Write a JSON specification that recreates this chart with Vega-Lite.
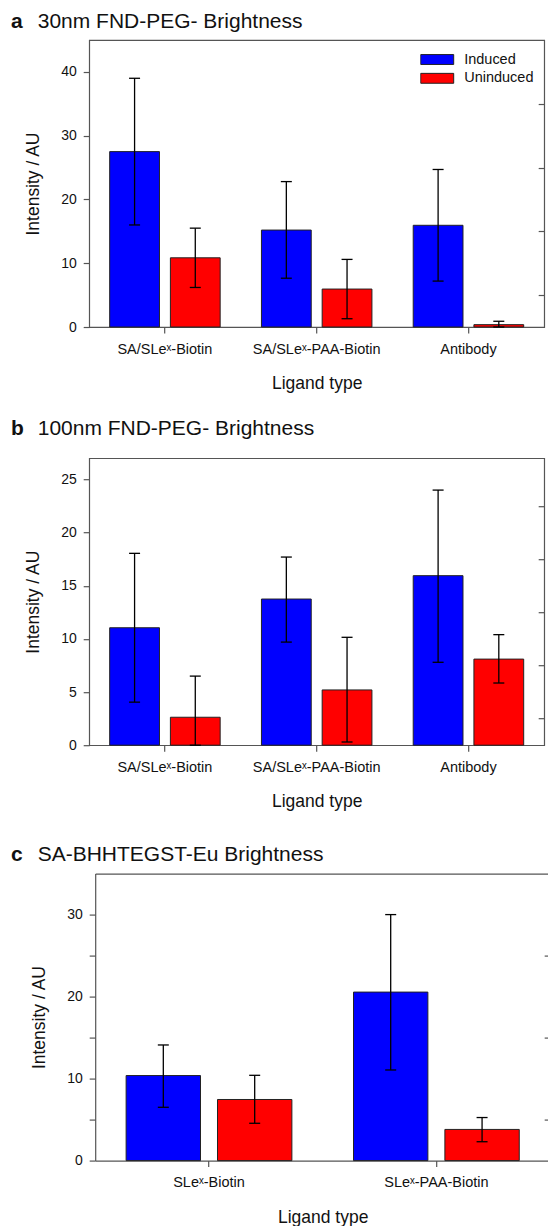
{
  "$schema": "https://vega.github.io/schema/vega-lite/v6.json",
  "background": "white",
  "padding": {"left": 10.2, "top": 10, "right": 0, "bottom": 0},
  "config": {
    "font": "Liberation Sans",
    "view": {"stroke": "#555", "strokeWidth": 1.2},
    "axis": {"domain": false, "grid": false, "tickColor": "#555", "tickWidth": 1.2, "tickSize": 6, "labelColor": "#111", "titleColor": "#111", "labelFontSize": 14, "titleFontSize": 17.5, "titleFontWeight": "normal", "domainColor": "#555", "domainWidth": 1.2},
    "axisX": {"labelAngle": 0, "labelPadding": 9, "titlePadding": 19, "labelFontSize": 14.5},
    "axisY": {"labelPadding": 7, "titlePadding": 18},
    "title": {"anchor": "start", "fontSize": 21, "fontWeight": "bold", "color": "#111", "subtitleFontSize": 21, "subtitleColor": "#111", "subtitleFontWeight": "normal", "subtitlePadding": -21},
    "tick": {"opacity": 1},
    "legend": {"labelColor": "#111"}
  },
  "datasets": {
    "a": [
      {"ligand": "SA/SLe\u02e3-Biotin", "condition": "Induced", "value": 27.5, "low": 16.0, "high": 39.0},
      {"ligand": "SA/SLe\u02e3-Biotin", "condition": "Uninduced", "value": 10.85, "low": 6.2, "high": 15.5},
      {"ligand": "SA/SLe\u02e3-PAA-Biotin", "condition": "Induced", "value": 15.2, "low": 7.65, "high": 22.8},
      {"ligand": "SA/SLe\u02e3-PAA-Biotin", "condition": "Uninduced", "value": 5.95, "low": 1.3, "high": 10.6},
      {"ligand": "Antibody", "condition": "Induced", "value": 15.95, "low": 7.2, "high": 24.7},
      {"ligand": "Antibody", "condition": "Uninduced", "value": 0.37, "low": 0, "high": 0.9}
    ],
    "b": [
      {"ligand": "SA/SLe\u02e3-Biotin", "condition": "Induced", "value": 11.05, "low": 4.05, "high": 18.05},
      {"ligand": "SA/SLe\u02e3-Biotin", "condition": "Uninduced", "value": 2.63, "low": 0, "high": 6.5},
      {"ligand": "SA/SLe\u02e3-PAA-Biotin", "condition": "Induced", "value": 13.75, "low": 9.7, "high": 17.7},
      {"ligand": "SA/SLe\u02e3-PAA-Biotin", "condition": "Uninduced", "value": 5.2, "low": 0.3, "high": 10.15},
      {"ligand": "Antibody", "condition": "Induced", "value": 15.95, "low": 7.8, "high": 24.0},
      {"ligand": "Antibody", "condition": "Uninduced", "value": 8.1, "low": 5.85, "high": 10.4}
    ],
    "c": [
      {"ligand": "SLe\u02e3-Biotin", "condition": "Induced", "value": 10.37, "low": 6.5, "high": 14.1},
      {"ligand": "SLe\u02e3-Biotin", "condition": "Uninduced", "value": 7.45, "low": 4.55, "high": 10.4},
      {"ligand": "SLe\u02e3-PAA-Biotin", "condition": "Induced", "value": 20.55, "low": 11.05, "high": 30.0},
      {"ligand": "SLe\u02e3-PAA-Biotin", "condition": "Uninduced", "value": 3.8, "low": 2.3, "high": 5.25}
    ]
  },
  "columns": 1,
  "align": "none",
  "spacing": 32.6,
  "resolve": {"scale": {"color": "independent", "xOffset": "independent", "x": "independent"}, "legend": {"color": "independent"}},
  "concat": [
    {
      "vconcat": [
        {
          "width": 455, "height": 287,
          "data": {"name": "a"},
          "title": {"text": "a", "subtitle": "\u200b\u2002\u2002\u00a030nm FND-PEG- Brightness", "dx": -13.7, "offset": 8},
          "encoding": {
            "x": {"field": "ligand", "type": "nominal", "sort": null, "title": "Ligand type", "scale": {"paddingInner": 0.272, "paddingOuter": 0.135}},
            "xOffset": {"field": "condition", "type": "nominal", "sort": ["Induced", "Uninduced"], "scale": {"paddingInner": 0.18, "paddingOuter": 0}}
          },
          "layer": [
            {
              "layer": [
                {
                  "mark": {"type": "bar", "stroke": "#222", "strokeWidth": 1},
                  "encoding": {
                    "y": {"field": "value", "type": "quantitative", "title": "Intensity / AU", "scale": {"domain": [0, 45], "nice": false}, "axis": {"values": [0, 5, 10, 15, 20, 25, 30, 35, 40], "labelExpr": "datum.value % 10 === 0 ? datum.label : ''"}},
                    "color": {"field": "condition", "type": "nominal", "scale": {"domain": ["Induced", "Uninduced"], "range": ["#0000ff", "#ff0000"]},
                      "legend": {"orient": "top-right", "offset": 10.5, "title": null, "symbolType": "M-1,-0.3H1V0.3H-1Z", "symbolSize": 1089, "symbolStrokeColor": "#222", "symbolStrokeWidth": 1, "symbolOpacity": 1, "labelFontSize": 14.5, "labelOffset": 10, "clipHeight": 17, "rowPadding": 1.8, "padding": 0}}
                  }
                },
                {"mark": {"type": "rule", "color": "#000", "strokeWidth": 1.3}, "encoding": {"y": {"field": "low", "type": "quantitative", "title": "Intensity / AU"}, "y2": {"field": "high"}}},
                {"mark": {"type": "tick", "color": "#000", "thickness": 1.3, "size": 11, "opacity": 1}, "encoding": {"y": {"field": "high", "type": "quantitative", "title": "Intensity / AU"}}},
                {"mark": {"type": "tick", "color": "#000", "thickness": 1.3, "size": 11, "opacity": 1}, "encoding": {"y": {"field": "low", "type": "quantitative", "title": "Intensity / AU"}}}
              ]
            },
            {"mark": {"type": "point", "opacity": 0}, "encoding": {"y": {"field": "value", "type": "quantitative", "scale": {"domain": [0, 45], "nice": false}, "axis": {"orient": "right", "title": null, "labels": false, "values": [5, 15, 25, 35], "offset": -6}}}}
          ],
          "resolve": {"scale": {"y": "independent"}}
        },
        {
          "width": 455, "height": 287,
          "data": {"name": "b"},
          "title": {"text": "b", "subtitle": "\u200b\u2002\u2002\u00a0100nm FND-PEG- Brightness", "dx": -13.7, "offset": 19},
          "encoding": {
            "x": {"field": "ligand", "type": "nominal", "sort": null, "title": "Ligand type", "scale": {"paddingInner": 0.272, "paddingOuter": 0.135}},
            "xOffset": {"field": "condition", "type": "nominal", "sort": ["Induced", "Uninduced"], "scale": {"paddingInner": 0.18, "paddingOuter": 0}}
          },
          "layer": [
            {
              "layer": [
                {
                  "mark": {"type": "bar", "stroke": "#222", "strokeWidth": 1},
                  "encoding": {
                    "y": {"field": "value", "type": "quantitative", "title": "Intensity / AU", "scale": {"domain": [0, 27], "nice": false}, "axis": {"values": [0, 2.5, 5, 7.5, 10, 12.5, 15, 17.5, 20, 22.5, 25], "labelExpr": "datum.value % 5 === 0 ? datum.label : ''"}},
                    "color": {"field": "condition", "type": "nominal", "scale": {"domain": ["Induced", "Uninduced"], "range": ["#0000ff", "#ff0000"]}, "legend": null}
                  }
                },
                {"mark": {"type": "rule", "color": "#000", "strokeWidth": 1.3}, "encoding": {"y": {"field": "low", "type": "quantitative", "title": "Intensity / AU"}, "y2": {"field": "high"}}},
                {"mark": {"type": "tick", "color": "#000", "thickness": 1.3, "size": 11, "opacity": 1}, "encoding": {"y": {"field": "high", "type": "quantitative", "title": "Intensity / AU"}}},
                {"mark": {"type": "tick", "color": "#000", "thickness": 1.3, "size": 11, "opacity": 1}, "encoding": {"y": {"field": "low", "type": "quantitative", "title": "Intensity / AU"}}}
              ]
            },
            {"mark": {"type": "point", "opacity": 0}, "encoding": {"y": {"field": "value", "type": "quantitative", "scale": {"domain": [0, 27], "nice": false}, "axis": {"orient": "right", "title": null, "labels": false, "values": [2.5, 7.5, 12.5, 17.5, 22.5], "offset": -6}}}}
          ],
          "resolve": {"scale": {"y": "independent"}}
        }
      ],
      "spacing": 24.2,
      "resolve": {"scale": {"color": "independent", "xOffset": "independent", "x": "independent"}, "legend": {"color": "independent"}}
    },
    {
      "width": 461, "height": 287,
      "view": {"stroke": null},
      "data": {"name": "c"},
      "title": {"text": "c", "subtitle": "\u200b\u2002\u2002\u00a0SA-BHHTEGST-Eu Brightness", "dx": -19.7, "offset": 9},
      "layer": [
        {
          "encoding": {
            "x": {"field": "ligand", "type": "nominal", "sort": null, "title": "Ligand type", "scale": {"range": [6, 461], "paddingInner": 0.271, "paddingOuter": 0.136}, "axis": {"domain": true}},
            "xOffset": {"field": "condition", "type": "nominal", "sort": ["Induced", "Uninduced"], "scale": {"paddingInner": 0.186, "paddingOuter": 0}}
          },
          "layer": [
            {
              "mark": {"type": "bar", "stroke": "#222", "strokeWidth": 1},
              "encoding": {
                "y": {"field": "value", "type": "quantitative", "title": "Intensity / AU", "scale": {"domain": [0, 35], "nice": false}, "axis": {"values": [0, 5, 10, 15, 20, 25, 30], "labelExpr": "datum.value % 10 === 0 ? datum.label : ''", "offset": -6, "domain": true}},
                "color": {"field": "condition", "type": "nominal", "scale": {"domain": ["Induced", "Uninduced"], "range": ["#0000ff", "#ff0000"]}, "legend": null}
              }
            },
            {"mark": {"type": "rule", "color": "#000", "strokeWidth": 1.3}, "encoding": {"y": {"field": "low", "type": "quantitative", "title": "Intensity / AU"}, "y2": {"field": "high"}}},
            {"mark": {"type": "tick", "color": "#000", "thickness": 1.3, "size": 11, "opacity": 1}, "encoding": {"y": {"field": "high", "type": "quantitative", "title": "Intensity / AU"}}},
            {"mark": {"type": "tick", "color": "#000", "thickness": 1.3, "size": 11, "opacity": 1}, "encoding": {"y": {"field": "low", "type": "quantitative", "title": "Intensity / AU"}}}
          ]
        },
        {
          "mark": {"type": "point", "opacity": 0},
          "encoding": {
            "x": {"field": "ligand", "type": "nominal", "sort": null, "scale": {"range": [6, 461], "paddingInner": 0.271, "paddingOuter": 0.136}, "axis": {"orient": "top", "title": null, "labels": false, "ticks": false, "domain": true}},
            "y": {"field": "value", "type": "quantitative", "scale": {"domain": [0, 35], "nice": false}, "axis": {"orient": "right", "title": null, "labels": false, "values": [5, 15, 25], "offset": -6}}
          }
        }
      ],
      "resolve": {"scale": {"y": "independent", "x": "independent"}, "axis": {"x": "independent", "y": "independent"}}
    }
  ]
}
